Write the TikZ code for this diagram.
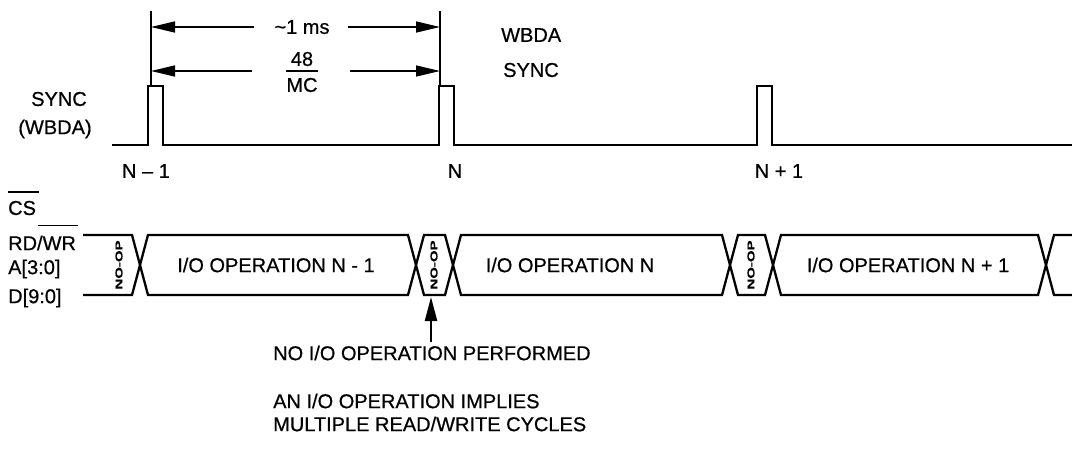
\documentclass[tikz,border=0pt]{standalone}
\usepackage{fontspec}
\setmainfont{Liberation Sans}[FakeBold=0.6]
\usepackage{graphicx}
\usetikzlibrary{arrows.meta}
\begin{document}
\begin{tikzpicture}[x=1pt,y=-1pt,
  sig/.style={line width=2.3pt, line join=miter},
  dimline/.style={line width=1.5pt},
  bar/.style={line width=1.7pt},
  lbl/.style={font=\fontsize{20}{24}\selectfont, inner sep=0pt},
  dimarrow/.style={dimline, -{Triangle[length=24pt,width=11pt]}},
  noop/.style={font=\fontsize{10}{10}\selectfont\bfseries, rotate=90, inner sep=0pt}]
\useasboundingbox[fill=white] (0,0) rectangle (1072,451);

% ---- SYNC waveform
\draw[sig] (112,145) -| (148,86) -| (163,145) -| (439,86) -| (454,145) -| (757,86) -| (772,145) -- (1072,145);

% ---- dimension references
\coordinate (v1t) at (151,11);
\coordinate (v1b) at (151,86);
\coordinate (v2t) at (440,11);
\coordinate (v2b) at (440,86);
\draw[dimline] (v1t) -- (v1b);
\draw[dimline] (v2t) -- (v2b);
\coordinate (a1l) at (151,27);
\coordinate (a1r) at (440,27);
\coordinate (a2l) at (151,71);
\coordinate (a2r) at (440,71);

\node[lbl] (ms) at (302,27) {\textasciitilde1 ms};
\draw[dimarrow] ([xshift=-20pt]ms.west) -- (a1l);
\draw[dimarrow] ([xshift=18pt]ms.east) -- (a1r);

\node[lbl] (f48) at (302,59) {48};
\node[lbl] (mc) at (302,85) {MC};
\coordinate (fbl) at (286,71);
\coordinate (fbr) at (318,71);
\draw[bar] (fbl) -- (fbr);
\draw[dimarrow] ([xshift=-34pt]fbl) -- (a2l);
\draw[dimarrow] ([xshift=32pt]fbr) -- (a2r);

\node[lbl, anchor=west] (wbda) at (501,35) {WBDA};
\node[lbl, anchor=west] (sync2) at (503,70) {SYNC};

\node[lbl] (sync1) at (59,99) {SYNC};
\node[lbl] (wbda1) at (55,129) {(WBDA)};

\node[lbl] (n1) at (146,171) {N -- 1};
\node[lbl] (n2) at (455,171) {N};
\node[lbl] (n3) at (779,171) {N + 1};

% ---- left signal labels
\node[lbl, anchor=west] (cs) at (8,208) {CS};
\draw[bar] ([yshift=9pt]cs.north west) -- ([yshift=9pt,xshift=3pt]cs.north east);
\node[lbl, anchor=west] (rdwr) at (8,243) {RD/WR};
\draw[bar] ([xshift=-38pt,yshift=10pt]rdwr.north east) -- ([xshift=2pt,yshift=10pt]rdwr.north east);
\node[lbl, anchor=west] (addr) at (8,269) {A[3:0]};
\node[lbl, anchor=west] (data) at (8,298) {D[9:0]};

% ---- bus
\draw[sig] (83,235) -- (132,235) -- (148,295) -- (408,295) -- (424,235) -- (445,235) -- (461,295) -- (722,295) -- (738,235) -- (765,235) -- (781,295) -- (1038,295) -- (1054,235) -- (1072,235);
\draw[sig] (83,295) -- (132,295) -- (148,235) -- (408,235) -- (424,295) -- (445,295) -- (461,235) -- (722,235) -- (738,295) -- (765,295) -- (781,235) -- (1038,235) -- (1054,295) -- (1072,295);

\node[noop] (nop1) at (119,265) {\scalebox{1.5}[1]{NO-OP}};
\node[noop] (nop2) at (434,265) {\scalebox{1.5}[1]{NO-OP}};
\node[noop] (nop3) at (751,265) {\scalebox{1.5}[1]{NO-OP}};

\node[lbl] (op1) at (276,265) {I/O OPERATION N - 1};
\node[lbl] (op2) at (570,265) {I/O OPERATION N};
\node[lbl] (op3) at (908,265) {I/O OPERATION N + 1};

% ---- annotation
\coordinate (tail) at (431,342);
\coordinate (head) at (431,297);
\draw[sig, -{Triangle[length=24pt,width=12pt]}] (tail) -- (head);

\node[lbl, anchor=west] (note1) at (273,353) {NO I/O OPERATION PERFORMED};
\node[lbl, anchor=west] (note2) at (273,401) {AN I/O OPERATION IMPLIES};
\node[lbl, anchor=west] (note3) at (273,424) {MULTIPLE READ/WRITE CYCLES};
\end{tikzpicture}
\end{document}
